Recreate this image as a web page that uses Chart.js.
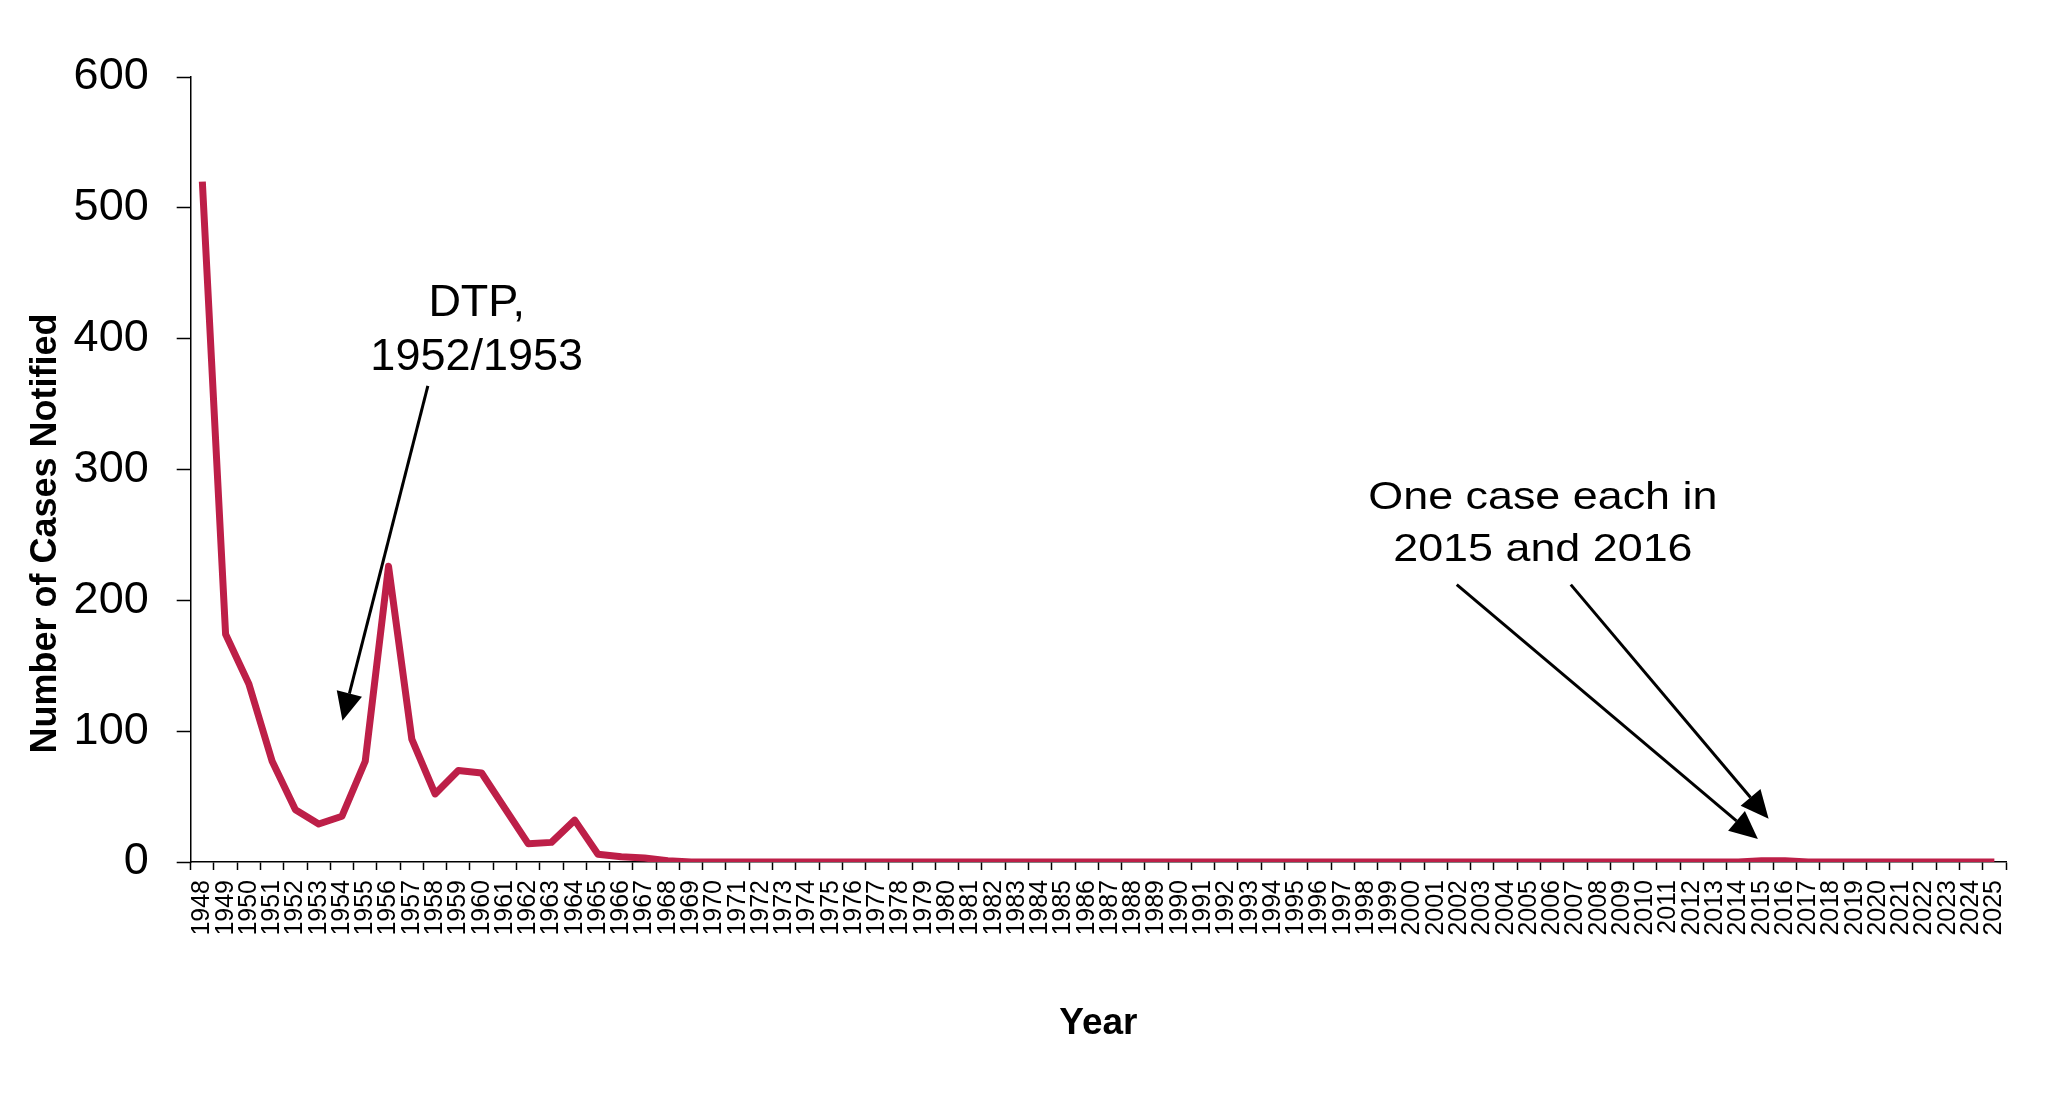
<!DOCTYPE html>
<html>
<head>
<meta charset="utf-8">
<title>Number of Cases Notified</title>
<script src="https://cdn.jsdelivr.net/npm/chart.js@4.4.1/dist/chart.umd.min.js"></script>
<style>
  html, body { margin: 0; padding: 0; background: #fff; }
  #wrap { width: 2068px; height: 1094px; }
</style>
</head>
<body>
<div id="wrap"><canvas id="casesChart" width="2068" height="1094"></canvas></div>
<script>
const years = [
    '1948', '1949', '1950', '1951', '1952', '1953', '1954', '1955', '1956', '1957',
    '1958', '1959', '1960', '1961', '1962', '1963', '1964', '1965', '1966', '1967',
    '1968', '1969', '1970', '1971', '1972', '1973', '1974', '1975', '1976', '1977',
    '1978', '1979', '1980', '1981', '1982', '1983', '1984', '1985', '1986', '1987',
    '1988', '1989', '1990', '1991', '1992', '1993', '1994', '1995', '1996', '1997',
    '1998', '1999', '2000', '2001', '2002', '2003', '2004', '2005', '2006', '2007',
    '2008', '2009', '2010', '2011', '2012', '2013', '2014', '2015', '2016', '2017',
    '2018', '2019', '2020', '2021', '2022', '2023', '2024', '2025'
];

// cases notified per year
const casesNotified = [
    520, 174, 136, 77, 40, 29, 35, 77, 226, 94,
    52, 70, 68, 41, 14, 15, 32, 6, 4, 3,
    1, 0, 0, 0, 0, 0, 0, 0, 0, 0,
    0, 0, 0, 0, 0, 0, 0, 0, 0, 0,
    0, 0, 0, 0, 0, 0, 0, 0, 0, 0,
    0, 0, 0, 0, 0, 0, 0, 0, 0, 0,
    0, 0, 0, 0, 0, 0, 0, 1, 1, 0,
    0, 0, 0, 0, 0, 0, 0, 0
];

const yTicks = [0, 100, 200, 300, 400, 500, 600];

// annotation anchors in data units (category index, cases)
const notes = [
    { lines: ['DTP,', '1952/1953'], at: [11.79, 417], lineGap: 54, size: 45, stretch: 1,
      arrows: [{ from: [9.69, 364], to: [6.02, 108] }] },
    { lines: ['One case each in', '2015 and 2016'], at: [57.6, 270], lineGap: 52, size: 39, stretch: 1.15,
      arrows: [{ from: [53.9, 212], to: [66.84, 17.6] }, { from: [58.8, 212], to: [67.3, 33] }] }
];

const FONT = "'Liberation Sans', Arial, sans-serif";
const LINE_RED = '#BD1F48';

// draws arrow line + filled head
function drawArrow(ctx, x1, y1, x2, y2) {
    const len = 28, half = 13;
    const dx = x2 - x1, dy = y2 - y1;
    const d = Math.hypot(dx, dy);
    const ux = dx / d, uy = dy / d;
    const bx = x2 - ux * len, by = y2 - uy * len;
    ctx.beginPath();
    ctx.moveTo(x1, y1);
    ctx.lineTo(bx, by);
    ctx.stroke();
    ctx.beginPath();
    ctx.moveTo(x2, y2);
    ctx.lineTo(bx - uy * half, by + ux * half);
    ctx.lineTo(bx + uy * half, by - ux * half);
    ctx.closePath();
    ctx.fill();
}

const notesPlugin = {
    id: 'notes',
    afterDatasetsDraw(chart) {
        const { ctx, scales: { x, y } } = chart;
        ctx.save();
        ctx.strokeStyle = '#000';
        ctx.fillStyle = '#000';
        ctx.lineWidth = 3;
        notes.forEach(note => {
            note.arrows.forEach(a => {
                drawArrow(ctx,
                    x.getPixelForValue(a.from[0]), y.getPixelForValue(a.from[1]),
                    x.getPixelForValue(a.to[0]), y.getPixelForValue(a.to[1]));
            });
            const cx = x.getPixelForValue(note.at[0]);
            const cy = y.getPixelForValue(note.at[1]);
            ctx.font = note.size + 'px ' + FONT;
            ctx.textAlign = 'center';
            ctx.textBaseline = 'alphabetic';
            note.lines.forEach((line, i) => {
                ctx.save();
                ctx.translate(cx, cy + i * note.lineGap);
                ctx.scale(note.stretch, 1);
                ctx.fillText(line, 0, 0);
                ctx.restore();
            });
        });
        ctx.restore();
    },
    afterDraw(chart) {
        // y axis title sits a bit below the middle of the axis in the original
        const { ctx, chartArea } = chart;
        ctx.save();
        ctx.translate(46, (chartArea.top + chartArea.bottom) / 2 + 64);
        ctx.rotate(-Math.PI / 2);
        ctx.font = 'bold 36px ' + FONT;
        ctx.fillStyle = '#000';
        ctx.textAlign = 'center';
        ctx.textBaseline = 'middle';
        ctx.fillText('Number of Cases Notified', 0, 0);
        ctx.restore();
    }
};

function initChart() {
    const ctx = document.getElementById('casesChart').getContext('2d');

    Chart.defaults.color = '#000';
    Chart.defaults.font.family = FONT;

    new Chart(ctx, {
        type: 'line',
        data: {
            labels: years,
            datasets: [{
                label: 'Cases notified',
                data: casesNotified,
                borderColor: LINE_RED,
                borderWidth: 7,
                borderJoinStyle: 'round',
                borderCapStyle: 'butt',
                pointRadius: 0,
                pointHoverRadius: 0,
                fill: false,
                tension: 0
            }]
        },
        options: {
            responsive: false,
            devicePixelRatio: 1,
            animation: false,
            events: [],
            layout: { padding: { left: 0, top: 77, right: 62, bottom: 0 } },
            plugins: {
                legend: { display: false },
                tooltip: { enabled: false },
                title: { display: false }
            },
            scales: {
                x: {
                    type: 'category',
                    offset: true,
                    afterFit: scale => { scale.height = 232; },
                    grid: {
                        offset: true,
                        drawOnChartArea: false,
                        tickLength: 8,
                        tickColor: '#000',
                        tickWidth: 1.5
                    },
                    border: { color: '#000', width: 1.5 },
                    ticks: {
                        autoSkip: false,
                        minRotation: 90,
                        maxRotation: 90,
                        padding: 10,
                        font: { size: 25 }
                    },
                    title: {
                        display: true,
                        text: 'Year',
                        font: { size: 37, weight: 'bold' },
                        padding: { top: 0, bottom: 48 }
                    }
                },
                y: {
                    min: 0,
                    max: 600,
                    afterFit: scale => { scale.width = 190.7; },
                    afterBuildTicks: scale => { scale.ticks = yTicks.map(v => ({ value: v })); },
                    grid: {
                        drawOnChartArea: false,
                        tickLength: 14,
                        tickColor: '#000',
                        tickWidth: 1.5
                    },
                    border: { color: '#000', width: 1.5 },
                    ticks: {
                        padding: 28,
                        font: { size: 45 }
                    }
                }
            }
        },
        plugins: [notesPlugin]
    });
}

document.addEventListener('DOMContentLoaded', initChart);
</script>
</body>
</html>
